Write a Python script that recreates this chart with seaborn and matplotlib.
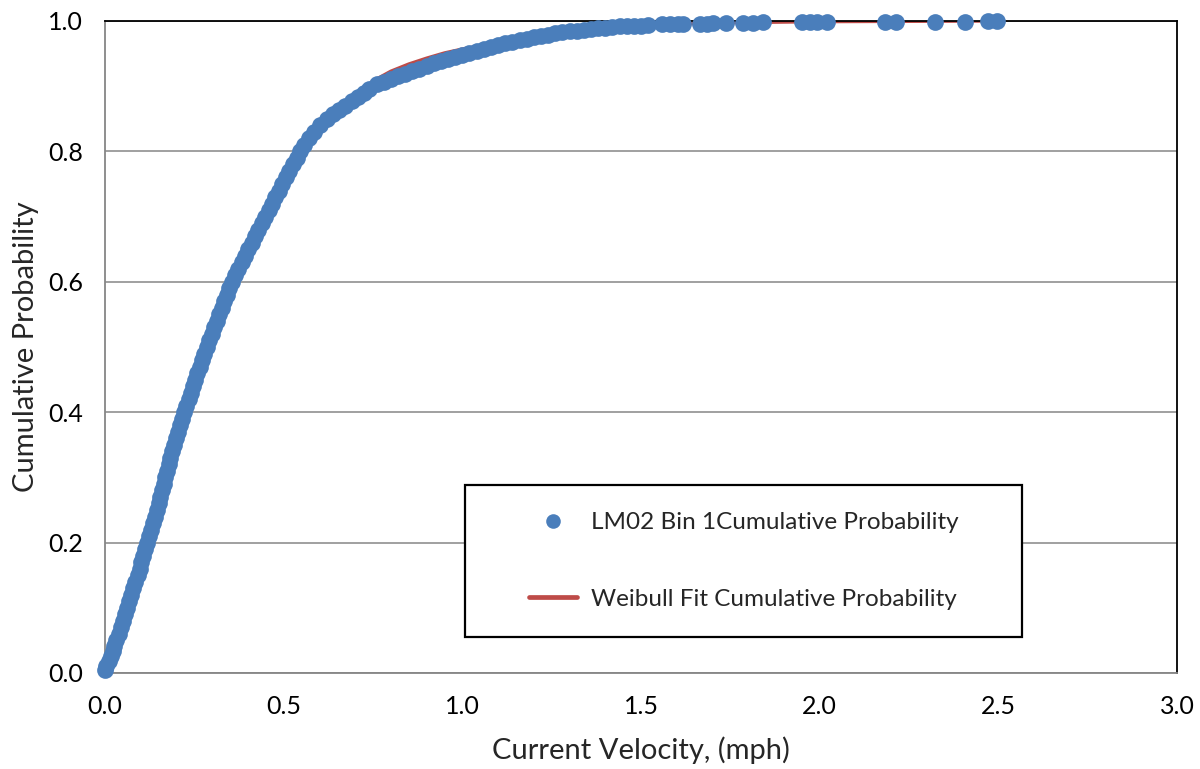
import matplotlib
matplotlib.use("Agg")
import matplotlib.pyplot as plt
from matplotlib.patches import Rectangle
from matplotlib.lines import Line2D
import numpy as np
import pandas as pd
import seaborn as sns

# Observed current velocities (mph) and their empirical cumulative probabilities
core_velocity = [
    0.000, 0.004, 0.010, 0.016, 0.021, 0.026, 0.030, 0.038, 0.045, 0.051,
    0.056, 0.061, 0.067, 0.073, 0.079, 0.085, 0.091, 0.097, 0.102, 0.107,
    0.113, 0.118, 0.124, 0.129, 0.134, 0.140, 0.145, 0.150, 0.154, 0.159,
    0.164, 0.168, 0.173, 0.178, 0.183, 0.188, 0.193, 0.199, 0.204, 0.210,
    0.216, 0.222, 0.228, 0.234, 0.240, 0.246, 0.252, 0.258, 0.265, 0.271,
    0.278, 0.285, 0.292, 0.299, 0.306, 0.313, 0.320, 0.327, 0.334, 0.341,
    0.348, 0.355, 0.364, 0.373, 0.382, 0.391, 0.400, 0.410, 0.419, 0.429,
    0.438, 0.448, 0.458, 0.467, 0.477, 0.486, 0.496, 0.506, 0.516, 0.526,
    0.536, 0.546, 0.558, 0.571, 0.585, 0.602, 0.620, 0.638, 0.655, 0.672,
    0.690, 0.708, 0.724, 0.740,
]
core_prob = [
    0.004, 0.010, 0.018, 0.026, 0.034, 0.042, 0.050, 0.060, 0.070, 0.080,
    0.090, 0.100, 0.110, 0.120, 0.130, 0.140, 0.150, 0.160, 0.170, 0.180,
    0.190, 0.200, 0.210, 0.220, 0.230, 0.240, 0.250, 0.260, 0.270, 0.280,
    0.290, 0.300, 0.310, 0.320, 0.330, 0.340, 0.350, 0.360, 0.370, 0.380,
    0.390, 0.400, 0.410, 0.420, 0.430, 0.440, 0.450, 0.460, 0.470, 0.480,
    0.490, 0.500, 0.510, 0.520, 0.530, 0.540, 0.550, 0.560, 0.570, 0.580,
    0.590, 0.600, 0.610, 0.620, 0.630, 0.640, 0.650, 0.660, 0.670, 0.680,
    0.690, 0.700, 0.710, 0.720, 0.730, 0.740, 0.750, 0.760, 0.770, 0.780,
    0.790, 0.800, 0.810, 0.820, 0.830, 0.840, 0.850, 0.857, 0.863, 0.870,
    0.877, 0.884, 0.890, 0.896,
]
shoulder_velocity = [
    0.760, 0.780, 0.800, 0.820, 0.840, 0.860, 0.880, 0.900, 0.920, 0.940,
    0.960, 0.980, 1.000, 1.020, 1.040, 1.060, 1.080, 1.100, 1.120, 1.140,
    1.160, 1.180, 1.200, 1.220, 1.240, 1.260, 1.280, 1.300, 1.320, 1.340,
    1.360, 1.380, 1.400, 1.420, 1.440, 1.460, 1.480, 1.500,
]
shoulder_prob = [
    0.903, 0.907, 0.911, 0.915, 0.919, 0.923, 0.927, 0.931, 0.935, 0.938,
    0.942, 0.945, 0.948, 0.951, 0.954, 0.957, 0.960, 0.963, 0.966, 0.968,
    0.971, 0.973, 0.975, 0.977, 0.979, 0.981, 0.983, 0.984, 0.985, 0.986,
    0.988, 0.989, 0.990, 0.991, 0.992, 0.992, 0.993, 0.993,
]
tail_velocity = [
    1.520, 1.559, 1.581, 1.604, 1.618, 1.665, 1.685, 1.702, 1.738, 1.786,
    1.814, 1.842, 1.951, 1.973, 1.993, 2.021, 2.183, 2.214, 2.323, 2.407,
    2.471, 2.496,
]
tail_prob = [
    0.994, 0.995, 0.995, 0.995, 0.996, 0.996, 0.996, 0.997, 0.997, 0.997,
    0.997, 0.998, 0.998, 0.998, 0.998, 0.999, 0.999, 0.999, 0.999, 0.999,
    1.000, 1.000,
]

# Fitted Weibull cumulative distribution
fit_velocity = [
    0.000, 0.030, 0.060, 0.100, 0.150, 0.200, 0.250, 0.300, 0.350, 0.400,
    0.450, 0.500, 0.550, 0.600, 0.650, 0.700, 0.750, 0.800, 0.850, 0.900,
    0.950, 1.000, 1.050, 1.100, 1.200, 1.300, 1.400, 1.500, 1.700, 2.000,
    2.500,
]
fit_prob = [
    0.000, 0.045, 0.095, 0.170, 0.262, 0.345, 0.435, 0.517, 0.595, 0.655,
    0.708, 0.757, 0.800, 0.838, 0.864, 0.886, 0.908, 0.923, 0.934, 0.943,
    0.951, 0.957, 0.962, 0.967, 0.976, 0.984, 0.989, 0.993, 0.997, 0.999,
    1.000,
]

x_ticks = [0.0, 0.5, 1.0, 1.5, 2.0, 2.5, 3.0]
y_ticks = [0.0, 0.2, 0.4, 0.6, 0.8, 1.0]

obs = pd.DataFrame({
    "velocity": core_velocity + shoulder_velocity + tail_velocity,
    "prob": core_prob + shoulder_prob + tail_prob,
})
fit = pd.DataFrame({"velocity": fit_velocity, "prob": fit_prob})

BLUE = "#4A7EBB"
RED = "#BE4B48"
GRID = "#868686"

sns.set_style("white")
plt.rcParams["font.family"] = ["Lato", "DejaVu Sans"]

fig = plt.figure(figsize=(12, 7.69), dpi=100)
ax = fig.add_axes([105 / 1200, 1 - 673 / 769, 1072 / 1200, 652 / 769])

sns.lineplot(data=fit, x="velocity", y="prob", ax=ax, color=RED, lw=2.4,
             zorder=2, sort=False)
sns.scatterplot(data=obs, x="velocity", y="prob", ax=ax, color=BLUE, s=145,
                linewidth=0, zorder=3, clip_on=False)

ax.set_xlim(0, 3.0)
ax.set_ylim(0, 1.0)
ax.set_xticks(x_ticks)
ax.set_yticks(y_ticks)
ax.set_xticklabels([f"{v:.1f}" for v in x_ticks])
ax.set_yticklabels([f"{v:.1f}" for v in y_ticks])
ax.tick_params(axis="both", direction="out", length=6, width=1.2, color=GRID,
               labelsize=18, pad=10, labelcolor="black")
ax.yaxis.grid(True, color=GRID, lw=1.1, zorder=0)
ax.xaxis.grid(False)
ax.set_axisbelow(True)

for side in ("left", "bottom"):
    ax.spines[side].set_color(GRID)
    ax.spines[side].set_linewidth(1.3)
for side in ("top", "right"):
    ax.spines[side].set_color("black")
    ax.spines[side].set_linewidth(1.3)

ax.set_xlabel("Current Velocity, (mph)", fontsize=21, labelpad=13)
ax.set_ylabel("Cumulative Probability", fontsize=21, labelpad=6)

# Legend panel
box = Rectangle((0.3358, 0.0552), 0.5196, 0.2331, transform=ax.transAxes,
                facecolor="white", edgecolor="black", lw=1.6, zorder=5)
ax.add_patch(box)
handles = [
    Line2D([], [], ls="none", marker="o", markersize=10.5, color=BLUE,
           markeredgewidth=0),
    Line2D([], [], color=RED, lw=3.4),
]
labels = ["LM02 Bin 1Cumulative Probability", "Weibull Fit Cumulative Probability"]
leg = ax.legend(handles, labels, loc="center", bbox_to_anchor=(0.5956, 0.1718),
                frameon=False, fontsize=17.5, handlelength=2.0, handletextpad=0.55,
                labelspacing=2.3, borderpad=0)
leg.set_zorder(6)

fig.savefig("out.png", dpi=100)
